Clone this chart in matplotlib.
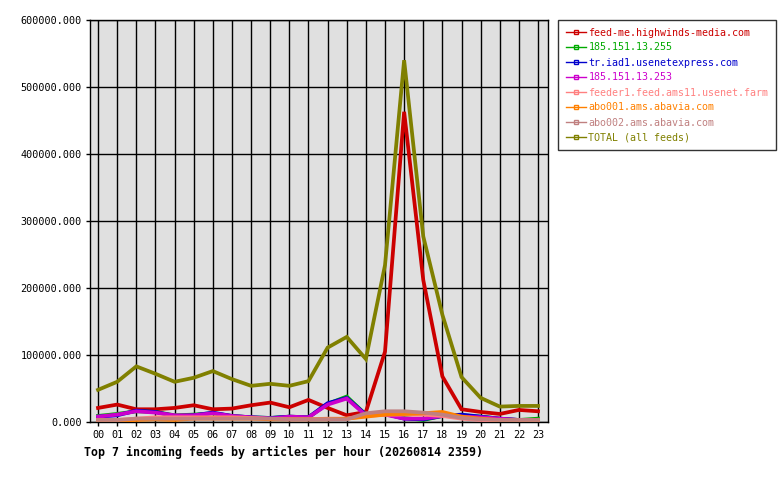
import matplotlib
matplotlib.use("Agg")
import matplotlib.pyplot as plt
from matplotlib.lines import Line2D

hours = ["00","01","02","03","04","05","06","07","08","09","10","11",
         "12","13","14","15","16","17","18","19","20","21","22","23"]

feed_me = [21,26,19,19,21,25,19,20,25,29,22,33,21,10,15,105,463,212,68,19,15,12,18,16]
ip_255 = [9,12,16,15,10,11,13,9,7,6,8,7,27,38,11,12,6,3,9,10,8,5,3,5]
usenetexpress = [8,10,17,15,9,10,14,9,7,6,8,7,28,36,11,12,5,4,9,11,8,5,3,3]
ip_253 = [8,11,16,14,10,10,13,9,7,5,8,7,26,35,10,11,5,5,9,8,7,5,3,3]
feeder1 = [3,3,5,7,7,7,7,7,6,5,4,4,5,5,9,11,11,11,9,5,3,2,2,2]
abo001 = [2,2,3,4,3,5,5,5,5,4,4,4,4,5,8,11,12,13,15,8,5,3,2,2]
abo002 = [3,3,5,5,5,5,5,5,5,5,4,4,4,4,13,16,16,14,11,6,4,3,3,3]
total = [48,60,83,72,60,66,76,64,54,57,54,61,111,127,94,234,540,277,160,67,36,23,24,24]

names = ["feed-me.highwinds-media.com", "185.151.13.255", "tr.iad1.usenetexpress.com",
         "185.151.13.253", "feeder1.feed.ams11.usenet.farm", "abo001.ams.abavia.com",
         "abo002.ams.abavia.com", "TOTAL (all feeds)"]
series = [feed_me, ip_255, usenetexpress, ip_253, feeder1, abo001, abo002, total]
colors = ["#cc0000", "#00aa00", "#0000cc", "#cc00cc", "#ff8080", "#ff8000", "#c08080", "#808000"]

mono = "DejaVu Sans Mono"
fig = plt.figure(figsize=(7.8, 4.8), dpi=100)
ax = fig.add_axes([90/780, 58/480, (548-90)/780, (422-20)/480])
ax.set_facecolor("#e0e0e0")

x = list(range(len(hours)))
for vals, c in zip(series, colors):
    ax.plot(x, [v * 1000 for v in vals], color=c, lw=2.7, solid_joinstyle="miter", zorder=3)

ax.set_xlim(-0.42, 23.52)
ax.set_ylim(0, 600000)
ax.set_xticks(x)
ax.set_xticklabels(hours, fontfamily=mono, fontsize=7.3)
yt = [0, 100000, 200000, 300000, 400000, 500000, 600000]
ax.set_yticks(yt)
ax.set_yticklabels([f"{v:.3f}" for v in yt], fontfamily=mono, fontsize=7.3)
ax.grid(True, color="black", lw=1.0, zorder=1)
ax.set_axisbelow(True)
ax.tick_params(direction="out", length=3, width=1.0, color="black", pad=3)
for s in ax.spines.values():
    s.set_color("black")
    s.set_linewidth(1.0)

handles = [Line2D([0], [0], color=c, lw=1, marker="s", markersize=2.5,
                  markerfacecolor="none", markeredgecolor=c) for c in colors]
leg = fig.legend(handles, names, loc="upper left",
                 bbox_to_anchor=(558/780, 1 - 20/480), borderaxespad=0,
                 frameon=True, fancybox=False, edgecolor="black",
                 prop={"family": mono, "size": 7.2}, handlelength=2.0,
                 handletextpad=0.3, labelspacing=0.5, borderpad=0.75)
leg.get_frame().set_linewidth(1.0)
for t, c in zip(leg.get_texts(), colors):
    t.set_color(c)

fig.text(84/780, 1 - 452/480, "Top 7 incoming feeds by articles per hour (20260814 2359)",
         fontfamily=mono, fontweight="bold", fontsize=8.4, va="center", ha="left")

fig.savefig("out.png", dpi=100, facecolor="white")
